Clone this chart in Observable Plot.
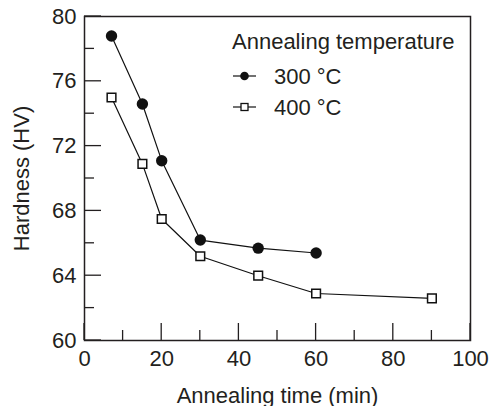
<!DOCTYPE html>
<html><head><meta charset="utf-8">
<script src="https://cdn.jsdelivr.net/npm/d3@7"></script>
<script src="https://cdn.jsdelivr.net/npm/@observablehq/plot@0.6"></script>
<style>
body{margin:0;background:#fff;}
#chart{width:489px;height:406px;font-family:"Liberation Sans",Arial,sans-serif;}
</style></head><body><div id="chart"></div>
<script>
// Data
const times300 = [7, 15, 20, 30, 45, 60];
const hardness300 = [78.8, 74.6, 71.1, 66.2, 65.7, 65.4];
const times400 = [7, 15, 20, 30, 45, 60, 90];
const hardness400 = [75.0, 70.9, 67.5, 65.2, 64.0, 62.9, 62.6];
const xMajor = [0, 20, 40, 60, 80, 100];
const xMinor = [10, 30, 50, 70, 90];
const yMajor = [60, 64, 68, 72, 76, 80];
const yMinor = [62, 66, 70, 74, 78];
const xTitle = "Annealing time (min)";
const yTitle = "Hardness (HV)";
const legendTitle = "Annealing temperature";
const seriesNames = ["300 °C", "400 °C"];

const d300 = times300.map((t, i) => ({t, h: hardness300[i]}));
const d400 = times400.map((t, i) => ({t, h: hardness400[i]}));
const ink = "#231f20";
const font = "'Liberation Sans', Arial, sans-serif";
const W = 489, H = 406, mL = 84, mR = 19, mT = 16, mB = 66;
const majorLen = 17, minorLen = 10;

const plot = Plot.plot({
  width: W, height: H,
  marginLeft: mL, marginRight: mR, marginTop: mT, marginBottom: mB,
  style: {fontFamily: font, fontSize: "22px", color: ink, background: "white"},
  x: {domain: [0, 100]},
  y: {domain: [60, 80]},
  marks: [
    Plot.axisX(xMajor, {tickSize: 0, tickPadding: 10, fontSize: 22, fill: ink,
      label: xTitle, labelAnchor: "center", labelOffset: 62, labelArrow: "none"}),
    Plot.axisY(yMajor, {tickSize: 0, tickPadding: 8, fontSize: 22, fill: ink,
      label: yTitle, labelAnchor: "center", labelOffset: 71, labelArrow: "none"}),
    Plot.frame({stroke: ink, strokeWidth: 1.5}),
    Plot.line(d300, {x: "t", y: "h", stroke: "#111", strokeWidth: 1.2}),
    Plot.line(d400, {x: "t", y: "h", stroke: "#111", strokeWidth: 1.2}),
    Plot.dot(d300, {x: "t", y: "h", r: 5.7, fill: "#111", stroke: "none"}),
    Plot.dot(d400, {x: "t", y: "h", symbol: "square", r: 4.9, fill: "white", stroke: "#111", strokeWidth: 1.5})
  ]
});
document.getElementById("chart").appendChild(plot);

// Inward tick marks, positioned through Plot's own scales
const sx = plot.scale("x"), sy = plot.scale("y");
const bottom = sy.apply(60), left = sx.apply(0);
const tg = d3.select(plot).append("g").attr("stroke", ink).attr("stroke-width", 1.3);
[[xMajor, majorLen], [xMinor, minorLen]].forEach(([vals, len]) => {
  vals.forEach(v => {
    const px = sx.apply(v);
    tg.append("line").attr("x1", px).attr("x2", px).attr("y1", bottom).attr("y2", bottom - len);
  });
});
[[yMajor, majorLen], [yMinor, minorLen]].forEach(([vals, len]) => {
  vals.forEach(v => {
    const py = sy.apply(v);
    tg.append("line").attr("x1", left).attr("x2", left + len).attr("y1", py).attr("y2", py);
  });
});

// Legend drawn inside the plot's own SVG
const lg = d3.select(plot).append("g")
  .attr("font-family", font).attr("font-size", 22).attr("fill", ink)
  .attr("text-anchor", "start");
lg.append("text").attr("x", 232).attr("y", 49).attr("text-anchor", "start").text(legendTitle);
const rowY = [76, 107];
seriesNames.forEach((name, i) => {
  const cy = rowY[i];
  const g = lg.append("g");
  g.append("line").attr("x1", 233).attr("x2", 256).attr("y1", cy).attr("y2", cy)
    .attr("stroke", "#111").attr("stroke-width", 1.2);
  if (i === 0) {
    g.append("circle").attr("cx", 244.5).attr("cy", cy).attr("r", 4.3).attr("fill", "#111");
  } else {
    g.append("rect").attr("x", 241).attr("y", cy - 3.5).attr("width", 7).attr("height", 7)
      .attr("fill", "white").attr("stroke", "#111").attr("stroke-width", 1.3);
  }
  g.append("text").attr("x", 274).attr("y", cy + 8).attr("text-anchor", "start").text(name);
});
</script></body></html>
